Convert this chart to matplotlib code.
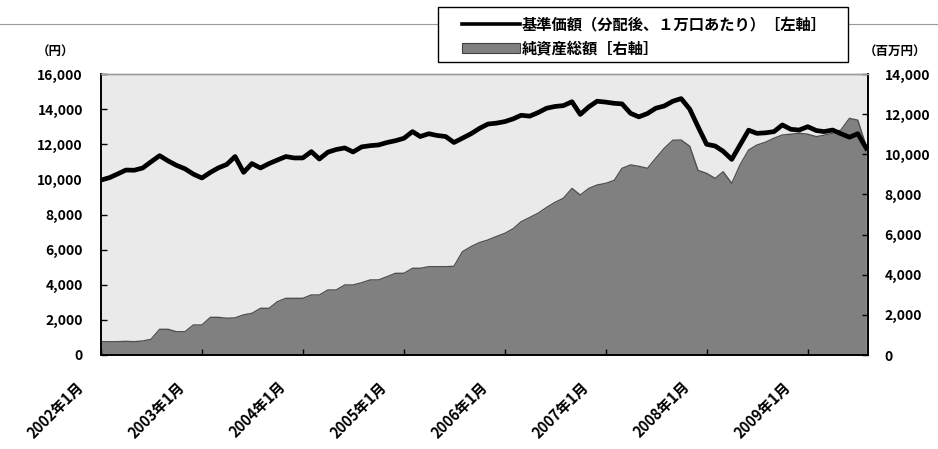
import numpy as np
import pandas as pd
import matplotlib
matplotlib.use('Agg')
import matplotlib.pyplot as plt
from matplotlib.lines import Line2D
from matplotlib.patches import Rectangle
from matplotlib.ticker import FuncFormatter
from matplotlib.transforms import ScaledTranslation

plt.rcParams['font.family'] = ['Noto Sans CJK JP', 'DejaVu Sans']
plt.rcParams['font.weight'] = 'bold'

# monthly points, 2002年1月 .. 2009年8月
months = pd.date_range('2002-01-01', periods=92, freq='MS')

# 基準価額 (円, left axis)
nav = [9960, 10100, 10300, 10530, 10520, 10650, 11000, 11350, 11050, 10800,
       10600, 10300, 10080, 10400, 10650, 10850, 11300, 10400, 10900, 10650,
       10900, 11100, 11300, 11220, 11220, 11580, 11160, 11550, 11700, 11790,
       11560, 11850, 11920, 11960, 12100, 12200, 12340, 12720, 12440, 12600,
       12500, 12440, 12100, 12350, 12600, 12900, 13150, 13200, 13290, 13450,
       13650, 13600, 13800, 14050, 14150, 14200, 14420, 13700, 14130, 14450,
       14400, 14330, 14300, 13760, 13560, 13750, 14050, 14180, 14450, 14600,
       14000, 13000, 12000, 11900, 11600, 11140, 11960, 12800, 12620, 12650,
       12720, 13100, 12850, 12810, 13000, 12780, 12720, 12810, 12600, 12400,
       12600, 11770]

# 純資産総額 (百万円, right axis)
assets = [663, 663, 663, 680, 663, 700, 780, 1280, 1280, 1160,
          1160, 1495, 1495, 1877, 1877, 1830, 1850, 2000, 2075, 2325,
          2325, 2655, 2823, 2823, 2823, 2990, 2990, 3240, 3240, 3490,
          3490, 3600, 3740, 3740, 3900, 4070, 4070, 4320, 4320, 4400,
          4400, 4400, 4420, 5150, 5400, 5600, 5730, 5900, 6060, 6300,
          6640, 6850, 7060, 7350, 7600, 7810, 8300, 7970, 8300, 8470,
          8550, 8700, 9300, 9470, 9400, 9300, 9800, 10300, 10700, 10710,
          10400, 9200, 9050, 8800, 9130, 8550, 9470, 10210, 10460, 10600,
          10800, 10960, 11000, 11050, 11000, 10880, 10950, 11050, 11210, 11790,
          11700, 10380]

year_ticks = pd.date_range('2002-01-01', '2009-01-01', freq='YS')
year_labels = [f'{d.year}年1月' for d in year_ticks]
nav_ticks = list(range(0, 16001, 2000))
asset_ticks = list(range(0, 14001, 2000))

nav_label = '基準価額（分配後、１万口あたり）［左軸］'
asset_label = '純資産総額［右軸］'

W, H = 938, 449
fig = plt.figure(figsize=(W / 100, H / 100), dpi=100)
ax = fig.add_axes([101 / W, 1 - 355 / H, 767 / W, 281 / H])
ax2 = ax.twinx()

# area behind, line in front
ax2.set_zorder(ax.get_zorder() - 1)
ax2.patch.set_visible(True)
ax2.patch.set_facecolor('#eaeaea')
ax.patch.set_visible(False)

ax2.fill_between(months, assets, 0, color='#808080', lw=0)
ax2.plot(months, assets, color='#505050', lw=1.0)
ax.plot(months, nav, color='black', lw=3.4)

ax.set_xlim(months[0], months[-1] + pd.Timedelta(days=6))
ax.set_ylim(0, 16000)
ax2.set_ylim(0, 14000)

fmt = FuncFormatter(lambda v, p: f'{int(v):,}')
ax.set_yticks(nav_ticks)
ax.yaxis.set_major_formatter(fmt)
ax2.set_yticks(asset_ticks)
ax2.yaxis.set_major_formatter(fmt)

ax.tick_params(axis='y', direction='in', length=4, width=1, pad=13, labelsize=10)
ax2.tick_params(axis='y', direction='in', length=4, width=1, pad=12, labelsize=10)
ax.tick_params(axis='x', direction='in', length=4, width=1, pad=17)

ax.set_xticks(year_ticks)
ax.set_xticklabels(year_labels, rotation=45, ha='right', va='top',
                   rotation_mode='anchor', fontsize=10.5)
shift = ScaledTranslation(-18 / 72, 0, fig.dpi_scale_trans)
for lab in ax.get_xticklabels():
    lab.set_transform(lab.get_transform() + shift)

for a in (ax, ax2):
    for s in ('left', 'right', 'bottom'):
        a.spines[s].set_color('black')
        a.spines[s].set_linewidth(1.2)
    a.spines['top'].set_color('#9a9a9a')
    a.spines['top'].set_linewidth(1.0)

fig.text(55 / W, 1 - 52 / H, '（円）', ha='center', va='center', fontsize=9)
fig.text(895 / W, 1 - 52 / H, '（百万円）', ha='center', va='center', fontsize=9)

# page rule and legend box
fig.add_artist(Line2D([0, 1], [1 - 24 / H] * 2, transform=fig.transFigure,
                      color='#9a9a9a', lw=0.8, zorder=1))
fig.add_artist(Rectangle((438 / W, 1 - 62 / H), 410 / W, 55 / H,
                         transform=fig.transFigure, facecolor='white',
                         edgecolor='black', lw=1.0, zorder=3))
fig.add_artist(Line2D([462 / W, 520 / W], [1 - 24 / H] * 2,
                      transform=fig.transFigure, color='black', lw=2.6, zorder=4))
fig.add_artist(Rectangle((462 / W, 1 - 53 / H), 58 / W, 10 / H,
                         transform=fig.transFigure, facecolor='#808080',
                         edgecolor='#404040', lw=0.8, zorder=4))
fig.text(522 / W, 1 - 24 / H, nav_label, ha='left', va='center',
         fontsize=11, zorder=5)
fig.text(522 / W, 1 - 48 / H, asset_label, ha='left', va='center',
         fontsize=11, zorder=5)

fig.savefig('out.png', dpi=100)
